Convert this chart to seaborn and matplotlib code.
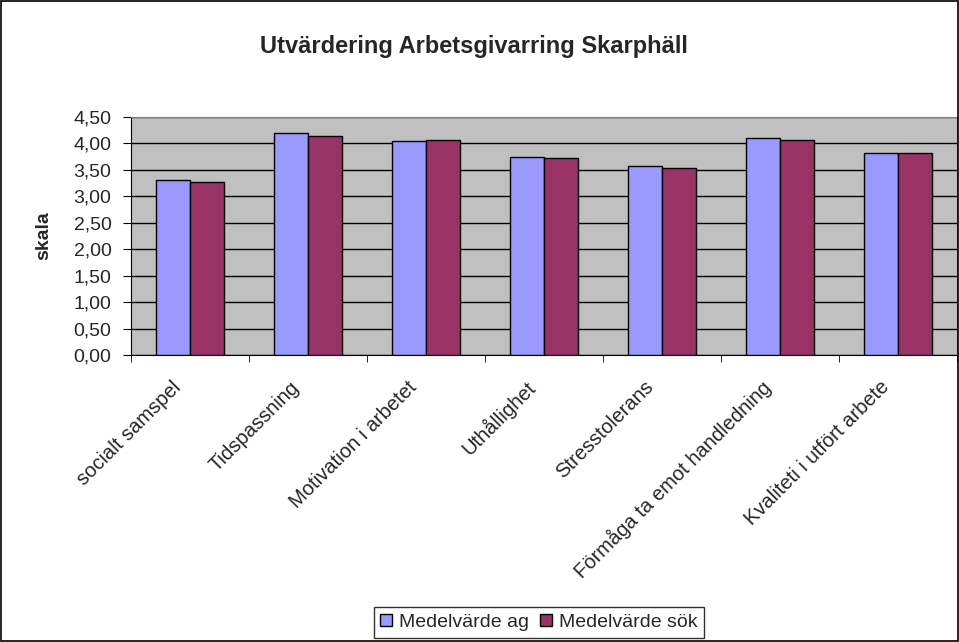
import numpy as np
import pandas as pd
import matplotlib
matplotlib.use("Agg")
import matplotlib.pyplot as plt
import seaborn as sns
from matplotlib.ticker import FuncFormatter, MultipleLocator, FixedLocator
from matplotlib.patches import Rectangle

categories = ["socialt samspel", "Tidspassning", "Motivation i arbetet",
              "Uthållighet", "Stresstolerans", "Förmåga ta emot handledning",
              "Kvaliteti i utfört arbete"]
medel_ag = [3.30, 4.20, 4.05, 3.74, 3.57, 4.10, 3.81]
medel_sok = [3.27, 4.14, 4.07, 3.72, 3.53, 4.07, 3.81]
series = ["Medelvärde ag", "Medelvärde sök"]

df = pd.DataFrame({
    "kategori": categories * 2,
    "serie": [series[0]] * len(categories) + [series[1]] * len(categories),
    "varde": medel_ag + medel_sok,
})

sns.set_style("white")
plt.rcParams["font.family"] = ["Liberation Sans", "DejaVu Sans"]

fig = plt.figure(figsize=(9.59, 6.42), dpi=100)
ax = fig.add_axes([0.1366, 0.447, 0.8614, 0.371])
ax.set_facecolor("#C0C0C0")

sns.barplot(data=df, x="kategori", y="varde", hue="serie",
            palette=["#9999FF", "#993366"], width=0.58, gap=0,
            edgecolor="black", linewidth=1, saturation=1, ax=ax, zorder=3)

ax.set_ylim(0, 4.5)
ax.set_xlim(-0.5, len(categories) - 0.5)
ax.yaxis.set_major_locator(MultipleLocator(0.5))
ax.yaxis.set_major_formatter(FuncFormatter(lambda v, p: f"{v:.2f}".replace(".", ",")))
ax.grid(axis="y", color="black", linewidth=1, zorder=0)
ax.set_axisbelow(True)

# labels sit a little left of the group centre, as in the original
ax.set_xticks(np.arange(len(categories)) - 0.1)
ax.set_xticklabels(categories, rotation=45, ha="right", va="center",
                   rotation_mode="anchor", fontsize=14.5)
ax.tick_params(axis="x", which="major", length=0, pad=21)
ax.xaxis.set_minor_locator(FixedLocator([i - 0.5 for i in range(len(categories) + 1)]))
ax.tick_params(axis="x", which="minor", length=5, color="black", bottom=True)
ax.tick_params(axis="y", length=6, color="black", left=True, labelsize=14, pad=8)

for s in ["top", "right"]:
    ax.spines[s].set_color("#808080")
for s in ["left", "bottom"]:
    ax.spines[s].set_color("black")

ax.set_xlabel("")
ax.set_ylabel("skala", fontsize=14, fontweight="bold", labelpad=15)
fig.text(0.494, 0.927, "Utvärdering Arbetsgivarring Skarphäll",
         ha="center", va="center", fontsize=17, fontweight="bold")

handles, labels = ax.get_legend_handles_labels()
ax.legend_.remove()
fig.legend(handles, labels, loc="upper center", bbox_to_anchor=(0.562, 0.054), ncol=2,
           fontsize=14, frameon=True, fancybox=False, edgecolor="black",
           handlelength=0.6, handleheight=0.6, handletextpad=0.35,
           columnspacing=0.6, borderpad=0.35, borderaxespad=0)

fig.patches.append(Rectangle((0.001, 0.001), 0.998, 0.998, transform=fig.transFigure,
                             fill=False, edgecolor="black", linewidth=1.2))

fig.savefig("out.png", dpi=100)
